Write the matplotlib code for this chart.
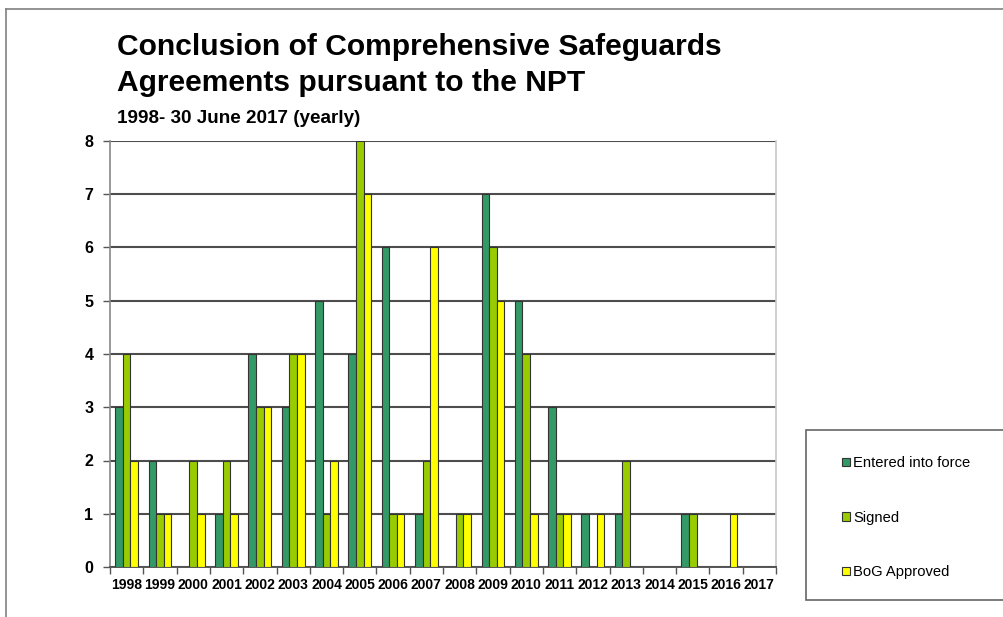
import numpy as np
import matplotlib.pyplot as plt
from matplotlib.patches import Rectangle
from matplotlib.lines import Line2D

plt.rcParams['font.family'] = ['Liberation Sans', 'DejaVu Sans']

years = [str(y) for y in range(1998, 2018)]
entered = [3, 2, 0, 1, 4, 3, 5, 4, 6, 1, 0, 7, 5, 3, 1, 1, 0, 1, 0, 0]
signed = [4, 1, 2, 2, 3, 4, 1, 8, 1, 2, 1, 6, 4, 1, 0, 2, 0, 1, 0, 0]
bog = [2, 1, 1, 1, 3, 4, 2, 7, 1, 6, 1, 5, 1, 1, 1, 0, 0, 0, 1, 0]
series = ["Entered into force", "Signed", "BoG Approved"]
colors = ["#339966", "#99CC00", "#FFFF00"]

W, H = 1004, 617
fig = plt.figure(figsize=(W / 100, H / 100), dpi=100)
ax = fig.add_axes([110 / W, 1 - 567 / H, 666 / W, (567 - 141) / H])

x = np.arange(len(years))
bw = 0.228
for i, (vals, c, lab) in enumerate(zip([entered, signed, bog], colors, series)):
    ax.bar(x + (i - 1) * bw, vals, bw, color=c, edgecolor="#333333",
           linewidth=0.8, label=lab, zorder=3)

ax.set_xlim(-0.5, len(years) - 0.5)
ax.set_ylim(0, 8)
ax.set_yticks(range(0, 9))
ax.yaxis.grid(True, color="#4d4d4d", linewidth=1.5, zorder=0)
ax.set_axisbelow(True)

ax.set_xticks(x)
ax.set_xticklabels(years, fontsize=10, fontweight="bold")
ax.set_xticks(np.arange(-0.5, len(years)), minor=True)
ax.tick_params(axis="x", which="major", length=0, pad=8)
ax.tick_params(axis="x", which="minor", length=5, width=1, color="#555555")
ax.tick_params(axis="y", length=5, width=1, color="#555555", labelsize=11.5, pad=7)
for t in ax.get_yticklabels():
    t.set_fontweight("bold")

ax.spines["top"].set_visible(False)
ax.spines["left"].set_color("#888888")
ax.spines["left"].set_linewidth(1.2)
ax.spines["bottom"].set_color("#555555")
ax.spines["bottom"].set_linewidth(1.4)
ax.spines["right"].set_color("#c8c8c8")
ax.spines["right"].set_linewidth(1.2)

fig.text(117 / W, 1 - 55 / H, "Conclusion of Comprehensive Safeguards",
         fontsize=21.6, fontweight="bold", va="baseline")
fig.text(117 / W, 1 - 91 / H, "Agreements pursuant to the NPT",
         fontsize=21.6, fontweight="bold", va="baseline")
fig.text(117 / W, 1 - 123 / H, "1998- 30 June 2017 (yearly)",
         fontsize=13.6, fontweight="bold", va="baseline")

# outer frame lines
fig.add_artist(Line2D([6 / W, 1.0], [1 - 9 / H, 1 - 9 / H], color="#808080", linewidth=1.2))
fig.add_artist(Line2D([6 / W, 6 / W], [1 - 9 / H, 0], color="#808080", linewidth=1.2))

# legend box
fig.add_artist(Rectangle((806 / W, 1 - 600 / H), (W - 806 + 5) / W, 170 / H,
                         transform=fig.transFigure, facecolor="white",
                         edgecolor="#666666", linewidth=1.2))
handles, labels = ax.get_legend_handles_labels()
fig.legend(handles, labels, loc="upper left", bbox_to_anchor=(829 / W, 1 - 443 / H),
           frameon=False, fontsize=10.6, handlelength=0.5, handleheight=0.5,
           handletextpad=0.25, labelspacing=2.75)

fig.savefig("out.png", dpi=100)
